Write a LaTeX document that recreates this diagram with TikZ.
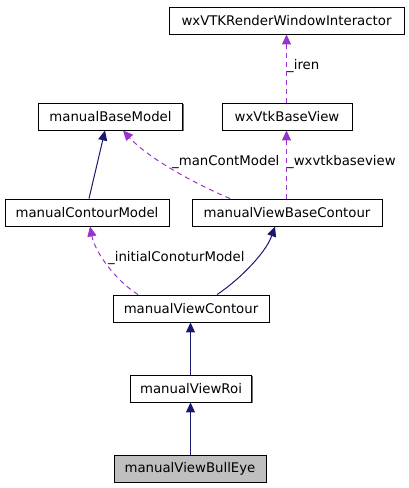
\documentclass[tikz,border=0pt]{standalone}
\usepackage{fontspec}
\setmainfont{DejaVu Sans}
\usetikzlibrary{arrows.meta,shadows}
\definecolor{navyc}{RGB}{25,25,112}
\definecolor{purplec}{RGB}{154,50,205}
\definecolor{grayfill}{RGB}{191,191,191}
\tikzset{
  cls/.style={draw=black, fill=white, line width=0.9pt, rectangle, inner sep=0pt,
    minimum height=27pt, font=\fontsize{13.3}{15}\selectfont,
    drop shadow={shadow xshift=1.3pt, shadow yshift=-1.3pt, fill=black!55, opacity=1}},
  inh/.style={draw=navyc, line width=1pt, -{Triangle[length=10pt,width=9pt,fill=navyc]}},
  use/.style={draw=purplec, line width=1pt, dash pattern=on 5pt off 4pt,
    -{Triangle[length=10pt,width=9pt,fill=purplec]}},
  lbl/.style={font=\fontsize{13.3}{15}\selectfont, inner sep=0pt}
}
\begin{document}
\begin{tikzpicture}[x=1pt,y=-1pt]
\useasboundingbox (0,0) rectangle (409,488);
\node[cls, minimum width=235pt] (rwi) at (286.5,20.5) {wxVTKRenderWindowInteractor};
\node[cls, minimum width=144pt] (mbm) at (110.5,116.5) {manualBaseModel};
\node[cls, minimum width=130pt] (vbv) at (287,116.5) {wxVtkBaseView};
\node[cls, minimum width=164pt] (mcm) at (87,212.5) {manualContourModel};
\node[cls, minimum width=190pt] (mvbc) at (287,212.5) {manualViewBaseContour};
\node[cls, minimum width=156pt] (mvc) at (191,308.5) {manualViewContour};
\node[cls, minimum width=121pt] (mvr) at (191,388.5) {manualViewRoi};
\node[cls, minimum width=152pt, fill=grayfill] (mvbe) at (190,468.5) {manualViewBullEye};

\draw[inh] ([xshift=-0.5pt]mvr.south |- mvbe.north) -- ([xshift=-0.5pt]mvr.south);
\draw[inh] ([xshift=-0.5pt]mvr.north) -- ([xshift=-0.5pt]mvc.south);
\draw[inh] ([xshift=26pt]mvc.north) .. controls (235,283) and (265,255) .. ([xshift=-12pt]mvbc.south);
\draw[inh] ([xshift=2pt]mcm.north) -- ([xshift=-5.5pt]mbm.south);
\draw[use] ([xshift=-53pt]mvc.north) .. controls (115,280) and (95,252) .. ([xshift=3pt]mcm.south);
\draw[use] ([xshift=-57pt]mvbc.north) .. controls (200,186) and (150,160) .. ([xshift=12.5pt]mbm.south);
\draw[use] ([xshift=-0.5pt]mvbc.north) -- ([xshift=-0.5pt]vbv.south);
\draw[use] ([xshift=-0.5pt]vbv.north) -- ([xshift=-0.5pt]vbv.north |- rwi.south);

\node[lbl, anchor=west] (l1) at (287,66) {\_iren};
\node[lbl, anchor=west] (l2) at (172,162) {\_manContModel};
\node[lbl, anchor=west] (l3) at (287,162) {\_wxvtkbaseview};
\node[lbl, anchor=west] (l4) at (108,258) {\_initialConoturModel};
\end{tikzpicture}
\end{document}
